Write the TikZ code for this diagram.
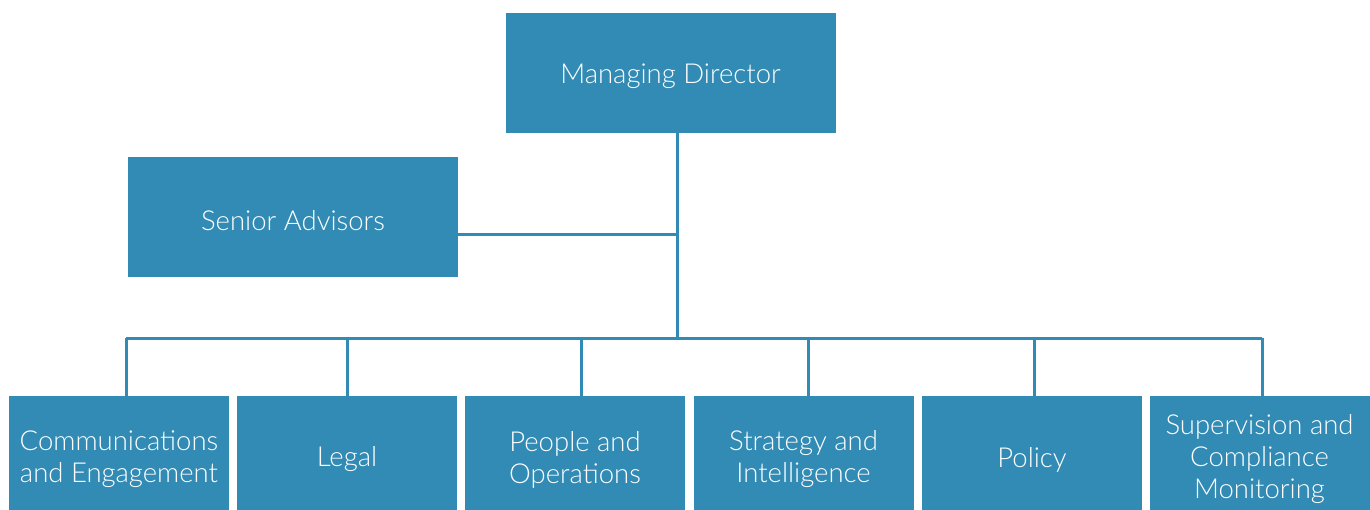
\documentclass[tikz,border=0pt]{standalone}
\usepackage{fontspec}
\setmainfont{Lato Light}
\definecolor{orgblue}{HTML}{328BB4}
\begin{document}
\begin{tikzpicture}[x=1pt,y=-1pt,
  unit/.style={fill=orgblue,inner sep=0pt},
  caption/.style={text=white,inner sep=0pt,align=center,
    font=\fontsize{27.5}{32}\selectfont},
  link/.style={draw=orgblue,line width=3pt}]
\useasboundingbox (0,0) rectangle (1370,509);
% top level
\node[unit,minimum width=330,minimum height=120] (md) at (670.5,73) {};
\node[caption,yshift=-3.5] (md-t) at (md.center) {Managing Director};
\node[unit,minimum width=330,minimum height=120] (sa) at (293,217) {};
\node[caption,yshift=-3.5] (sa-t) at (sa.center) {Senior Advisors};
% departments (boxes run past the lower edge)
\foreach \n/\cx/\txt in {comm/119/{Communications\\and Engagement},
    legal/347/Legal,
    people/575/{People and\\Operations},
    strat/803.5/{Strategy and\\Intelligence},
    policy/1032/Policy,
    sup/1259.5/{Supervision and\\Compliance\\Monitoring}}
  {\node[unit,minimum width=220,minimum height=120] (\n) at (\cx,456) {};
   \node[caption,yshift=-3.5] (\n-t) at (\n.center) {\txt};}
% connectors
\coordinate (j1) at (677.5,234);
\coordinate (j2) at (677.5,338);
\draw[link] (md.south -| j1) -- (j2);
\draw[link] (sa.east |- j1) -- (j1);
\coordinate (busl) at (126,338);
\coordinate (busr) at (1262,338);
\draw[link] (busl) -- (busr);
\foreach \n/\x in {comm/126,legal/347,people/581,strat/808,policy/1034,sup/1262}
  \draw[link] (\x,338) -- (\x,0 |- \n.north);
\end{tikzpicture}
\end{document}
